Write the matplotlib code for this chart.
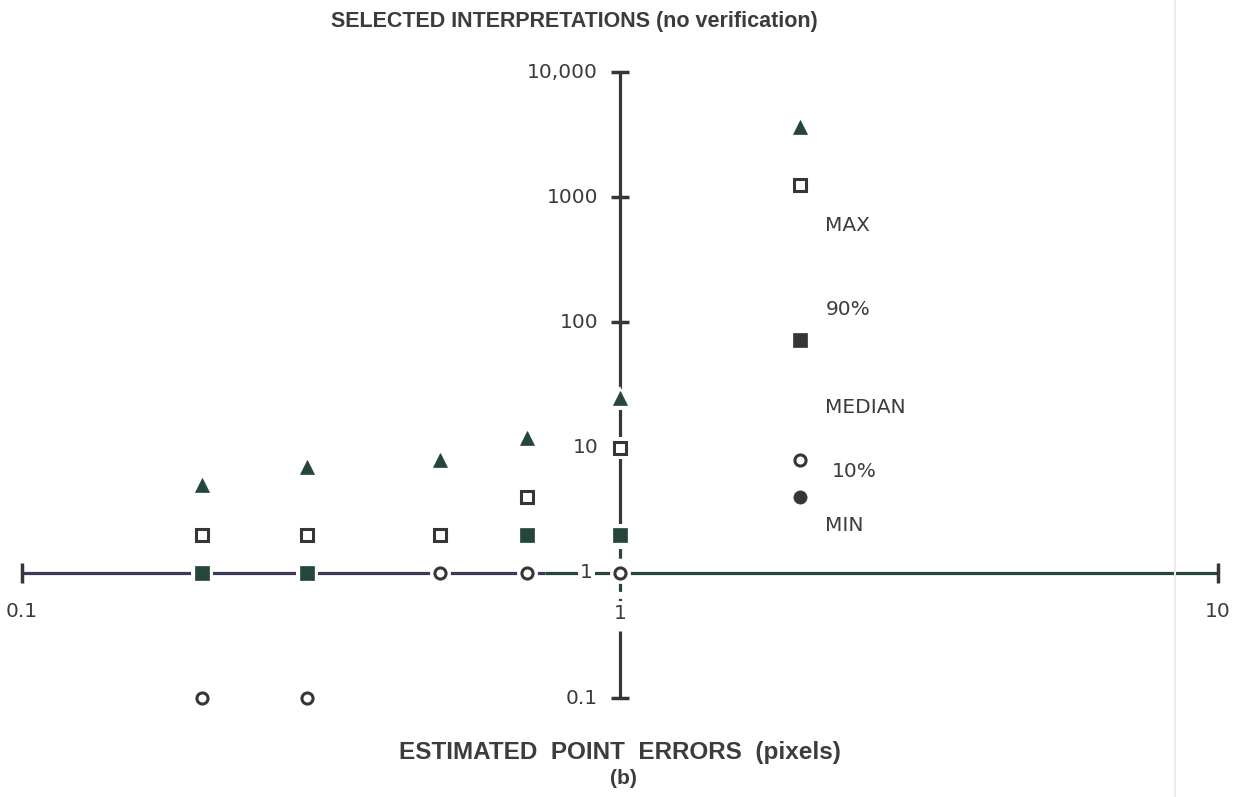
import matplotlib
matplotlib.use("Agg")
import matplotlib.pyplot as plt
from matplotlib.lines import Line2D

plt.rcParams['font.family'] = ['DejaVu Sans']

# Selected interpretations versus estimated point error (no verification)
point_error = [0.2, 0.3, 0.5, 0.7, 1.0]
max_count = [5, 7, 8, 12, 25]
p90_count = [2, 2, 2, 4, 10]
median_count = [1, 1, 2, 2, 2]
p10_count = [0.1, 0.1, 1, 1, 1]

x_ticks = [0.1, 1, 10]
x_tick_labels = ['0.1', '1', '10']
y_ticks = [0.1, 1, 10, 100, 1000, 10000]
y_tick_labels = ['0.1', '1', '10', '100', '1000', '10,000']
key_labels = ['MAX', '90%', 'MEDIAN', '10%', 'MIN']

INK = '#363636'
GREEN = '#24463b'
SLATE = '#3b3b55'
TEXT = '#3c3c3c'

W, H = 1234, 797
fig = plt.figure(figsize=(W / 100, H / 100), dpi=100)
fig.patch.set_facecolor('white')
ax = fig.add_axes([22 / W, 99 / H, 1196 / W, 626 / H])
ax.set_xscale('log')
ax.set_yscale('log')
ax.set_xlim(0.1, 10)
ax.set_ylim(0.1, 10000)
ax.axis('off')

# horizontal axis through y = 1 with end bars
ax.plot([0.1, 0.75], [1, 1], color=SLATE, lw=2.3, solid_capstyle='butt', zorder=1)
ax.plot([0.75, 10], [1, 1], color=GREEN, lw=2.3, solid_capstyle='butt', zorder=1)
ax.plot([x_ticks[0], x_ticks[-1]], [1, 1], ls='none', marker='|', ms=14, mew=2.5,
        color=INK, zorder=1, clip_on=False)

# vertical axis through x = 1: solid, dashed near the origin, solid below
ax.plot([1, 1], [2.3, 10000], color=INK, lw=2.3, solid_capstyle='butt', zorder=1)
ax.plot([1, 1], [0.52, 2.3], color=GREEN, lw=2.3, dashes=(3, 2.2), zorder=1)
ax.plot([1, 1], [0.1, 0.34], color=INK, lw=2.3, solid_capstyle='butt', zorder=1)
y_marks = [y for y in y_ticks if y != 1]
ax.plot([1] * len(y_marks), y_marks, ls='none', marker='_', ms=13, mew=2.5,
        color=INK, zorder=1, clip_on=False)

# tick labels
for y, lab in zip(y_ticks, y_tick_labels):
    if y == 1:
        ax.text(0.90, y, lab, ha='right', va='center', fontsize=14.5, color=TEXT,
                zorder=2, bbox=dict(fc='white', ec='none', pad=1.5))
    else:
        ax.text(0.919, y, lab, ha='right', va='center', fontsize=14.5, color=TEXT)
for x, lab in zip(x_ticks, x_tick_labels):
    yl = 0.475 if x == 1 else 0.49
    ax.text(x, yl, lab, ha='center', va='center', fontsize=14.5, color=TEXT,
            zorder=2, clip_on=False,
            bbox=dict(fc='white', ec='none', pad=2) if x == 1 else None)


def draw(xs, ys, marker, ms, face, edge, mew):
    # white halo opens gaps in the axis lines around each symbol
    ax.plot(xs, ys, ls='none', marker=marker, ms=ms + 7, mfc='white', mec='white',
            mew=0, zorder=3, clip_on=False)
    ax.plot(xs, ys, ls='none', marker=marker, ms=ms, mfc=face, mec=edge, mew=mew,
            zorder=4, clip_on=False)


draw(point_error, max_count, '^', 10.5, GREEN, GREEN, 0.5)
draw(point_error, median_count, 's', 9.5, GREEN, GREEN, 0.5)
draw(point_error, p90_count, 's', 8.5, 'white', INK, 2.2)
draw(point_error, p10_count, 'o', 8.0, 'white', INK, 2.2)

# key
key_x = 2.0
draw([key_x], [3650], '^', 10.5, GREEN, GREEN, 0.5)
draw([key_x], [1256], 's', 8.5, 'white', INK, 2.2)
draw([key_x], [72.6], 's', 9.5, INK, INK, 0.5)
draw([key_x], [8.0], 'o', 8.0, 'white', INK, 2.2)
draw([key_x], [4.05], 'o', 9.5, INK, INK, 0.5)
key_text_pos = [(2.2, 590), (2.21, 126), (2.2, 20.8), (2.26, 6.5), (2.2, 2.37)]
for (tx, ty), lab in zip(key_text_pos, key_labels):
    ax.text(tx, ty, lab, ha='left', va='center', fontsize=14.5, color=TEXT)

# titles
fig.text(574 / W, 1 - 22 / H, 'SELECTED INTERPRETATIONS (no verification)',
         ha='center', va='center', fontsize=15.5, fontweight='bold', color=TEXT,
         family='Liberation Sans')
fig.text(620 / W, 1 - 753 / H, 'ESTIMATED  POINT  ERRORS  (pixels)',
         ha='center', va='center', fontsize=17.5, fontweight='bold', color=TEXT,
         family='Liberation Sans')
fig.text(623 / W, 1 - 778 / H, '(b)', ha='center', va='center', fontsize=15,
         fontweight='bold', color=TEXT, family='Liberation Sans')

# faint page crease
fig.add_artist(Line2D([1175 / W, 1175 / W], [0, 1], color='#ececec', lw=1.5))

fig.savefig('out.png', dpi=100, facecolor='white')
